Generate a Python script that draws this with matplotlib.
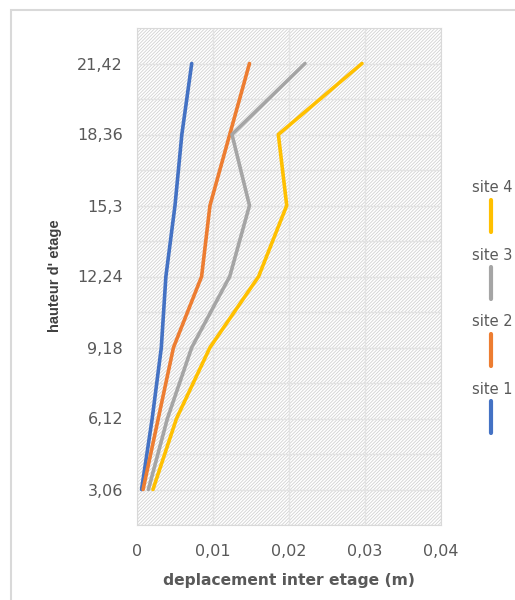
import matplotlib.pyplot as plt
from matplotlib.lines import Line2D
from matplotlib.patches import Rectangle

# hauteurs des etages (m) et deplacements inter etage (m) par site
hauteurs = [3.06, 6.12, 9.18, 12.24, 15.3, 18.36, 21.42]
hauteur_labels = ["3,06", "6,12", "9,18", "12,24", "15,3", "18,36", "21,42"]
site1 = [0.0006, 0.0020, 0.0032, 0.0038, 0.0050, 0.0059, 0.0072]
site2 = [0.0008, 0.0028, 0.0048, 0.0085, 0.0096, 0.0122, 0.0148]
site3 = [0.0015, 0.0040, 0.0072, 0.0122, 0.0148, 0.0125, 0.0221]
site4 = [0.0021, 0.0052, 0.0096, 0.0160, 0.0197, 0.0186, 0.0296]
x_ticks = [0, 0.01, 0.02, 0.03, 0.04]
x_labels = ["0", "0,01", "0,02", "0,03", "0,04"]

series = [("site 4", site4, "#FFC000"),
          ("site 3", site3, "#A5A5A5"),
          ("site 2", site2, "#ED7D31"),
          ("site 1", site1, "#4472C4")]

plt.rcParams['hatch.linewidth'] = 0.6
plt.rcParams['hatch.color'] = '#D2D2D2'

fig = plt.figure(figsize=(5.15, 6.0), dpi=100)
ax = fig.add_axes([137/515, 75/600, 304/515, 497/600])

# cadre exterieur du graphique
fig.add_artist(Rectangle((11/515, -0.1), 1.0, 0.1 + 590/600, transform=fig.transFigure,
                         fill=False, edgecolor='#D9D9D9', linewidth=1.5))

ax.patch.set_facecolor('white')
ax.patch.set_hatch('/' * 10)
ax.patch.set_edgecolor('#D2D2D2')

for name, vals, col in series[::-1]:
    ax.plot(vals, hauteurs, color=col, linewidth=2.6, solid_capstyle='round', zorder=3)

ax.set_xlim(0, 0.04)
ax.set_ylim(1.53, 22.95)
ax.set_xticks(x_ticks)
ax.set_xticklabels(x_labels)
ax.set_yticks(hauteurs)
ax.set_yticklabels(hauteur_labels)
ax.set_yticks([1.53 * k for k in range(1, 15)], minor=True)
ax.tick_params(which='both', length=0, colors='#595959', labelsize=11.5)
ax.tick_params(axis='x', pad=14)
ax.tick_params(axis='y', pad=10)
ax.grid(True, which='both', color='#E3E3E3', linewidth=1.0, zorder=1)
for sp in ax.spines.values():
    sp.set_color('#D9D9D9')

ax.set_xlabel("deplacement inter etage (m)", fontsize=11.2, fontweight='bold',
              color='#595959', labelpad=10)
fig.text(55/515, 1 - 276/600, "hauteur d' etage", rotation=90, ha='center', va='center',
         fontsize=10.5, fontweight='bold', color='#404040',
         family=['DejaVu Sans Condensed', 'Liberation Sans'])

# legende a droite, traits verticaux
for i, (name, vals, col) in enumerate(series):
    ty = 188 + i * 67
    fig.text(472/515, 1 - ty/600, name, ha='left', va='center', fontsize=10.5, color='#595959')
    fig.add_artist(Line2D([491/515, 491/515], [1 - (ty + 12)/600, 1 - (ty + 44)/600],
                          transform=fig.transFigure, color=col, linewidth=3,
                          solid_capstyle='round'))

fig.savefig("out.png", dpi=100)
